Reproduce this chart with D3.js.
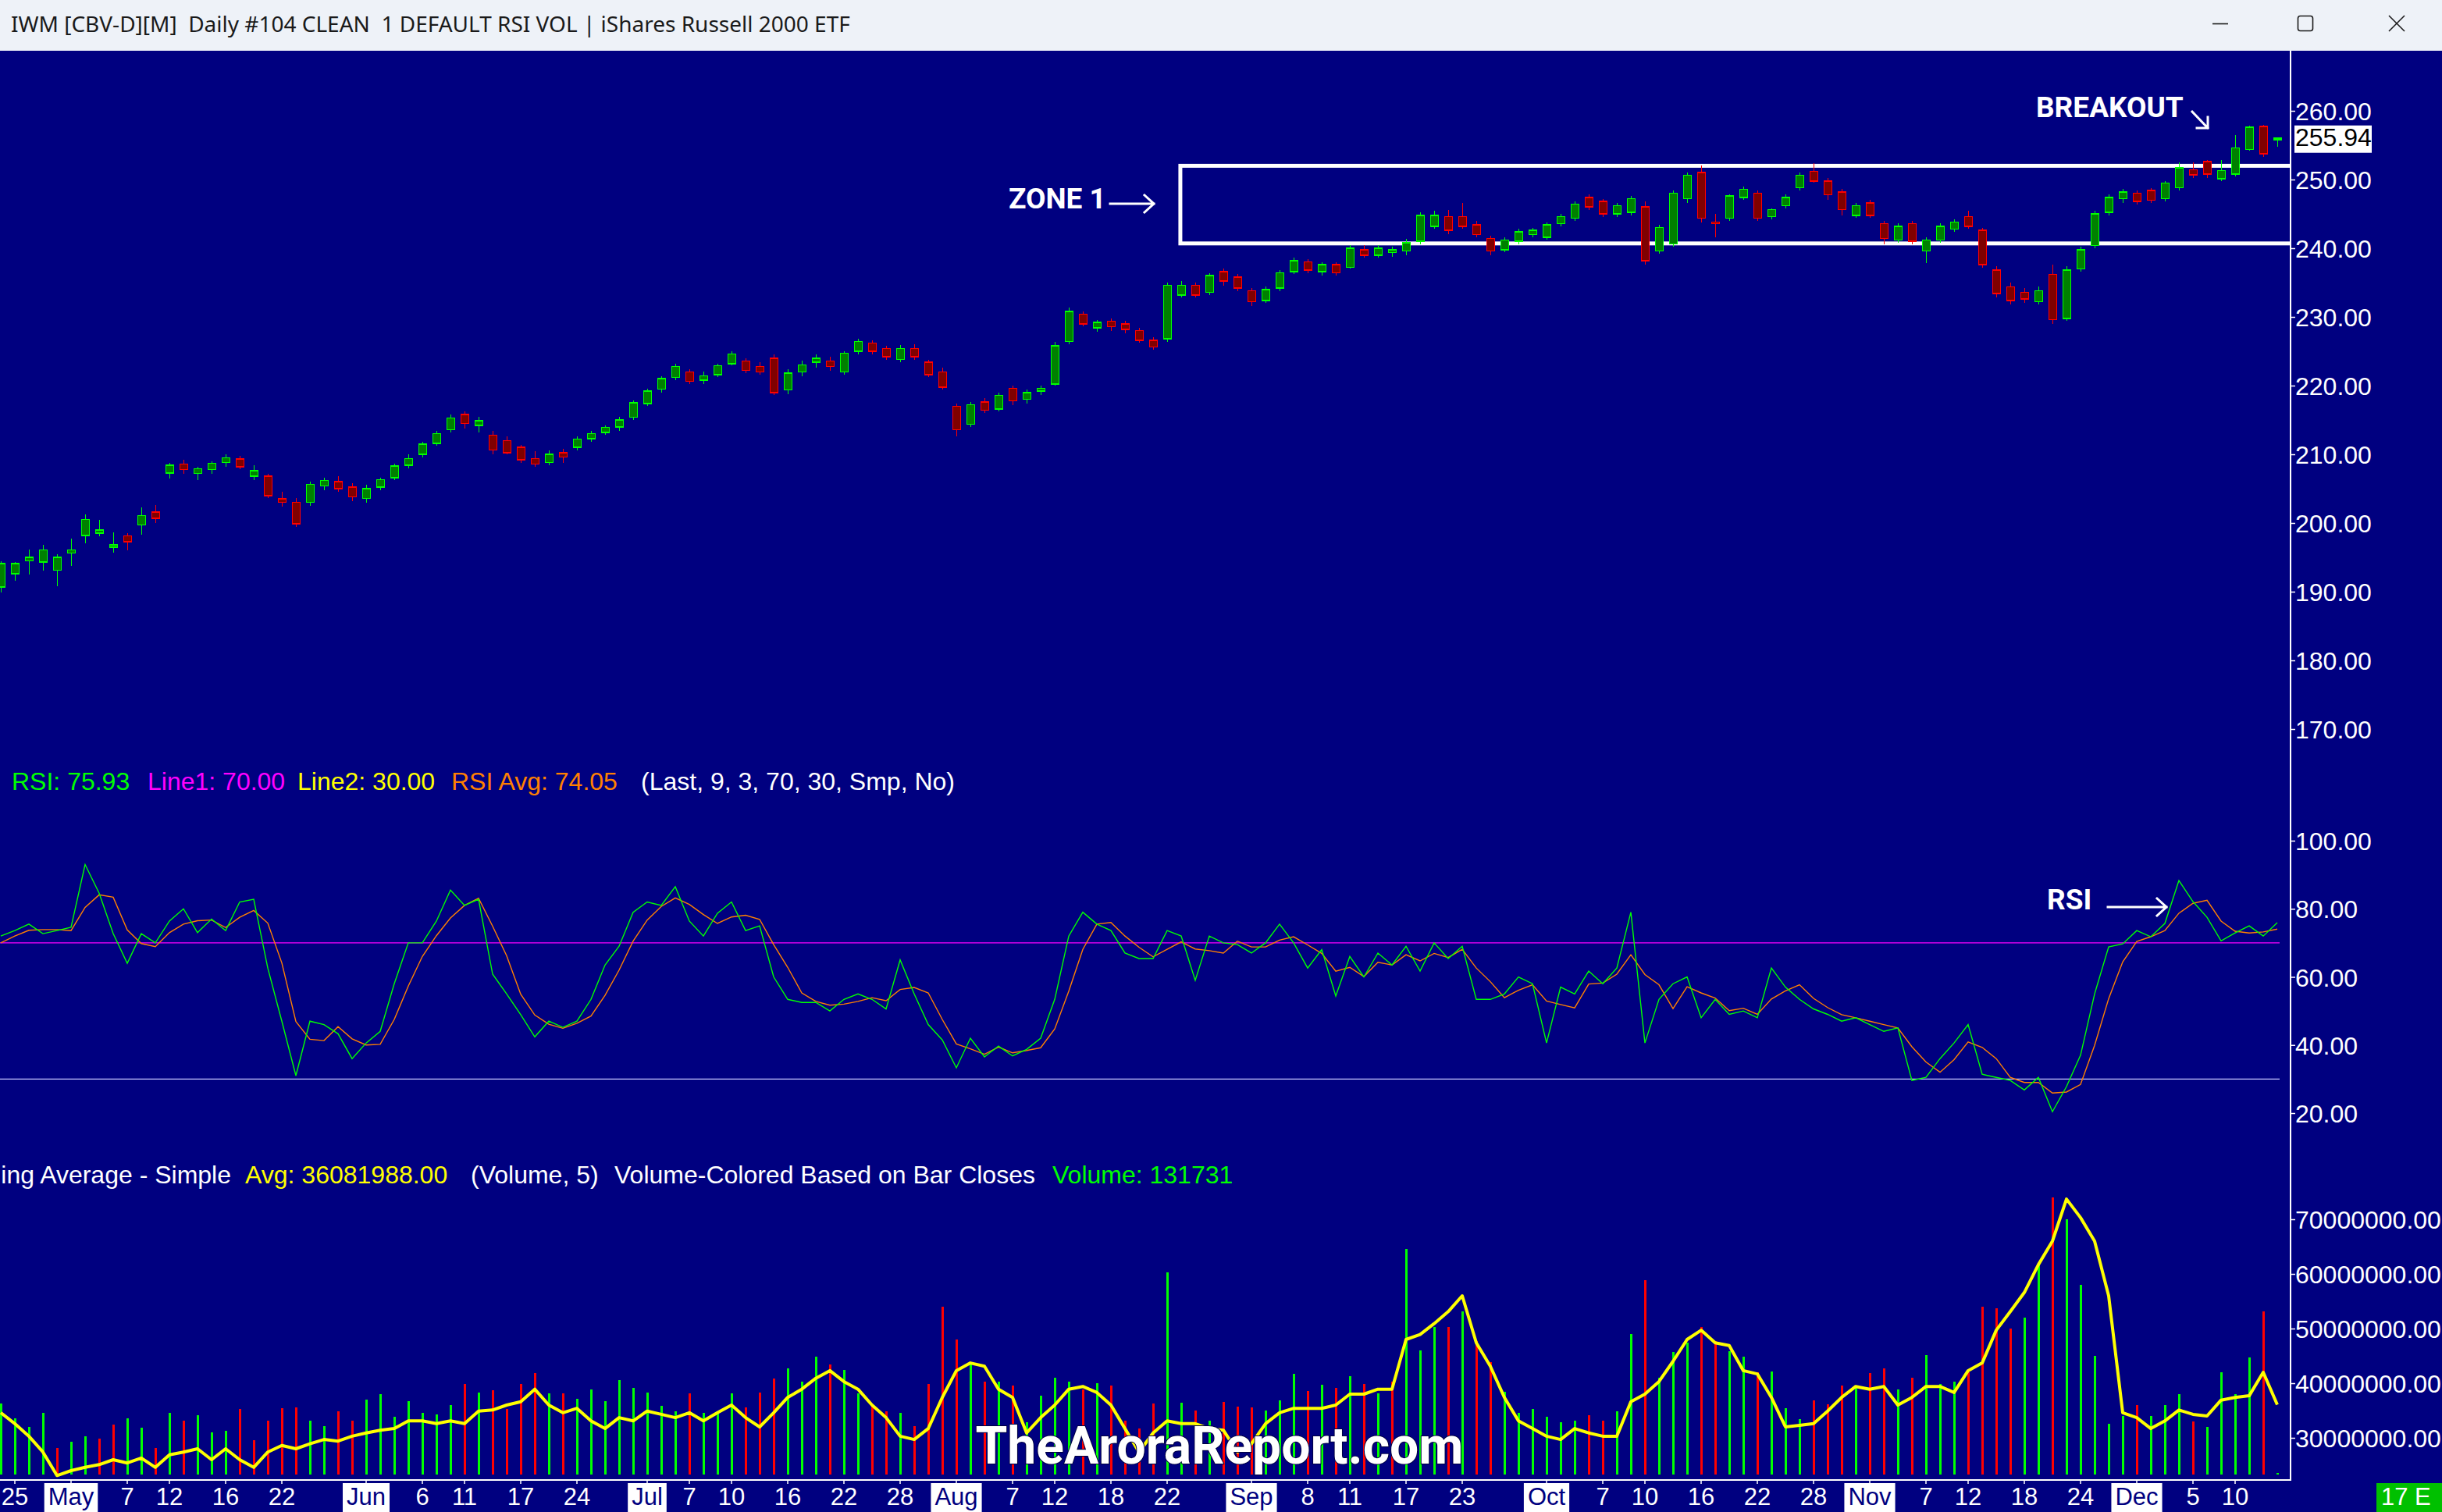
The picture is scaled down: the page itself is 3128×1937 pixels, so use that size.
<!DOCTYPE html>
<html><head><meta charset="utf-8">
<script src="https://cdn.jsdelivr.net/npm/d3@7"></script>
<style>html,body{margin:0;padding:0;background:#000080;overflow:hidden}</style>
</head><body><svg id="c" width="3128" height="1937" xmlns="http://www.w3.org/2000/svg"></svg>
<script>
// ---------------- DATA ----------------
const openP = [
190.7,192.6,194.5,194.3,193.1,195.6,198.2,198.5,196.5,198.1,
199.7,201.6,207.3,208.6,207.2,207.8,208.8,209.3,206.8,206.8,
203.5,203.0,203.0,205.4,206.0,205.2,203.6,205.2,206.6,208.4,
210.0,211.6,213.6,215.8,214.2,212.8,212.0,211.0,209.4,208.8,
210.2,211.0,212.3,213.2,214.0,215.4,217.4,219.5,221.2,222.0,
220.8,221.6,223.2,223.6,222.8,224.0,219.4,222.0,223.4,223.6,
222.0,225.0,226.2,225.4,223.8,225.4,223.4,222.0,217.0,214.4,
217.6,216.6,219.6,218.0,219.2,220.2,226.4,230.4,228.4,229.4,
229.0,228.0,226.6,226.8,233.2,234.6,233.6,236.6,235.8,233.8,
232.4,234.2,236.6,238.0,236.6,237.6,237.2,239.8,239.0,239.4,
239.6,241.0,243.2,244.6,244.6,243.4,241.4,239.8,241.0,242.0,
241.6,243.6,244.4,247.4,246.8,245.0,245.2,246.0,239.6,240.6,
247.2,251.0,243.8,244.4,247.4,248.0,244.6,246.2,248.8,251.2,
249.8,248.2,244.8,246.6,243.6,241.2,243.6,239.6,241.2,242.8,
244.6,242.6,236.8,234.4,233.6,232.2,236.2,229.8,237.0,240.4,
245.2,247.2,248.0,248.4,247.2,248.8,251.4,252.6,250.1,250.8,
254.4,257.7,255.9];
const highP = [
194.4,194.3,196.1,196.8,195.5,197.7,201.2,200.5,198.6,198.5,
202.3,202.6,208.8,209.2,208.2,209.0,210.0,209.8,208.4,207.2,
204.5,203.6,206.0,206.6,206.8,205.8,205.6,206.6,208.6,210.0,
211.8,213.4,215.8,216.3,215.4,213.4,212.6,211.4,210.4,210.6,
210.8,212.6,213.4,214.2,215.4,217.8,219.6,221.4,223.2,222.4,
222.0,223.2,225.0,224.0,223.4,224.6,222.4,223.6,224.6,224.2,
225.0,226.8,226.6,225.8,225.9,226.0,223.8,222.6,217.4,217.6,
218.2,219.0,220.0,219.4,220.0,226.4,231.4,230.8,229.6,229.8,
229.4,228.4,227.0,235.0,235.2,235.0,236.4,237.0,236.2,234.2,
234.4,236.8,238.6,238.4,238.0,238.0,240.4,240.4,240.4,240.2,
241.4,245.2,245.4,245.6,246.6,244.0,241.8,241.6,242.8,243.0,
243.8,245.0,246.8,247.8,247.2,246.6,247.6,246.8,243.4,248.4,
251.0,252.0,245.0,247.8,249.0,248.4,245.8,247.8,251.0,252.4,
250.2,248.6,246.6,247.0,244.0,243.6,244.0,241.6,243.6,244.2,
245.4,243.0,237.4,235.0,234.2,234.4,237.6,237.4,240.2,245.4,
247.8,248.6,248.4,248.8,249.8,252.5,252.5,252.8,252.8,256.5,
257.8,258.0,256.0];
const lowP = [
189.9,191.6,192.5,193.1,190.8,193.7,197.0,198.1,195.7,196.0,
198.3,200.0,206.5,207.2,206.3,207.2,208.2,207.8,206.2,203.6,
202.4,199.4,202.5,204.8,204.6,203.2,203.0,204.8,206.2,208.0,
209.6,211.2,213.2,213.8,213.2,210.0,210.0,208.8,208.2,208.4,
208.8,210.6,211.8,212.8,213.4,215.0,217.0,219.0,220.8,220.2,
220.2,221.2,223.0,221.8,221.6,218.6,218.8,221.4,222.6,222.2,
221.6,224.6,224.6,223.8,223.4,223.8,221.2,219.4,212.6,214.0,
216.0,216.2,217.2,217.4,218.6,220.0,226.0,228.6,227.8,228.0,
227.6,226.2,225.2,226.4,232.8,232.8,233.2,234.6,233.8,231.6,
232.0,233.8,236.2,236.4,236.0,236.0,237.0,238.6,238.6,238.8,
239.0,240.6,242.8,242.0,242.8,241.6,239.0,239.4,240.6,241.6,
241.2,243.2,244.0,245.6,244.6,244.6,244.8,237.6,239.2,240.2,
246.6,243.8,241.6,244.0,247.0,244.0,244.2,245.8,248.4,249.6,
247.0,244.8,244.4,244.4,240.6,240.8,240.6,237.8,240.8,242.4,
242.8,237.2,232.8,231.8,232.0,231.8,229.0,229.4,236.6,240.0,
244.8,246.6,246.4,246.6,246.8,248.4,250.2,250.2,249.8,250.5,
254.2,253.3,254.8];
const closeP = [
194.1,194.1,195.0,196.1,195.0,196.1,200.5,199.0,196.8,197.3,
201.1,200.7,208.4,207.8,207.9,208.7,209.5,208.2,207.6,204.0,
203.0,199.9,205.6,206.2,205.0,203.8,205.0,206.3,208.3,209.4,
211.5,213.0,215.3,214.5,214.9,210.6,210.2,209.2,208.6,210.0,
209.6,212.2,213.0,213.9,215.0,217.5,219.2,221.0,222.8,220.6,
221.4,222.9,224.6,222.2,222.0,219.0,221.8,223.0,224.0,222.8,
224.7,226.4,225.0,224.2,225.4,224.2,221.6,219.8,213.6,217.2,
216.4,218.6,217.8,219.0,219.6,225.8,230.8,229.0,229.2,228.6,
228.2,226.6,225.6,234.6,234.6,233.2,236.0,235.2,234.2,232.2,
234.0,236.4,238.2,236.8,237.6,236.4,240.0,239.0,240.0,239.8,
240.8,244.8,244.8,242.6,243.2,242.0,239.6,241.2,242.4,242.6,
243.4,244.6,246.4,246.0,245.0,246.2,247.2,238.2,243.0,248.0,
250.6,244.4,243.6,247.6,248.6,244.4,245.6,247.4,250.6,249.8,
247.8,245.6,246.2,244.8,241.4,243.2,241.0,241.2,243.2,243.8,
243.2,237.6,233.4,232.4,232.6,233.8,229.6,236.8,239.8,245.0,
247.4,248.2,246.8,247.0,249.5,251.7,250.7,250.8,251.3,254.6,
257.6,253.75,255.94];
// RSI(9) and its 3-bar average
const rsiValues = [
72,73.6,75.5,72.7,73.6,74.6,93,84.6,72.7,64,
72.7,70,76.4,80,73,77,73.6,82,82.8,62.6,
47,31,47,46,43.3,36,40.6,44,58,70,
70,76.4,85.5,81,82.8,60.8,55,48.9,42.4,47,
45.2,47,53.4,63.5,69,79,82,81,86.5,76.4,
72,78.7,82,73.6,75,60,53.4,52.5,52.5,50,
53.4,55,53.4,50.6,65,55,46,41.5,33.3,42,
36.5,39.7,36.8,38.7,42,53.4,72,79,75.5,73.6,
67,65.4,65.4,73.6,72,59,72,70,69.5,67,
70,75.5,70,62.6,68,54.4,66,60,67,63.5,
69,61.7,70,65.4,69,53.4,53.4,55,60,58,
40.6,57,55,61.7,58,62.6,79,40.6,53.4,58,
60,48,53.4,49,50,48,62.6,57,53.4,50.6,
49,47,48,46,44,45,29.6,30.5,36,40.6,
46,31.4,30.5,29.6,26.8,30.5,20.4,27.8,37,55,
68.8,69.7,73.6,71.8,75.7,88.3,82.1,77.5,70.6,72.9,
75,72,75.93];
const rsiAvgValues = [
70,72,73.7,73.9,73.9,73.6,80.4,84.1,83.4,73.8,
69.8,68.9,73.0,75.5,76.5,76.7,74.5,77.5,79.5,75.8,
64.1,46.9,41.7,41.3,45.4,41.8,40.0,40.2,47.5,57.3,
66.0,72.1,77.3,81.0,83.1,74.9,66.2,54.9,48.8,46.1,
44.9,46.4,48.5,54.6,62.0,70.5,76.7,80.7,83.2,81.3,
78.3,75.7,77.6,78.1,76.9,69.5,62.8,55.3,52.8,51.7,
52.0,52.8,53.9,53.0,56.3,56.9,55.3,47.5,40.3,38.9,
37.3,39.4,37.7,38.4,39.2,44.7,55.8,68.1,75.5,76.0,
72.0,68.7,65.9,68.1,70.3,68.2,67.7,67.0,70.5,68.8,
68.8,70.8,71.8,69.4,66.9,61.7,62.8,60.1,64.3,63.5,
66.5,64.7,66.9,65.7,68.1,62.6,58.6,53.9,56.1,57.7,
52.9,51.9,50.9,57.9,58.2,60.8,66.5,60.7,57.7,50.7,
57.1,55.3,53.8,50.1,50.8,49.0,53.5,55.9,57.7,53.7,
51.0,48.9,48.0,47.0,46.0,45.0,39.5,35.0,32.0,35.7,
40.9,39.3,36.0,30.5,29.0,29.0,25.9,26.2,28.4,39.9,
53.6,64.4,70.4,71.8,73.6,78.7,81.6,82.5,76.4,73.4,
72.9,73.2,74.05];
// Volume, in millions of shares, and its 5-bar simple average
const volumeM = [
36.3,33.6,32.0,34.6,28.1,29.3,30.3,29.9,32.5,33.6,
31.9,28.2,34.6,33.2,34.2,31.0,31.3,35.3,29.6,33.2,
35.5,35.6,33.2,32.2,34.9,33.2,37.0,38.0,33.9,36.7,
34.6,34.3,36.0,39.8,38.3,38.7,35.3,39.9,41.8,38.2,
38.2,37.2,38.9,36.7,40.6,39.1,38.3,35.9,34.9,38.2,
34.6,34.6,38.2,35.6,38.3,40.8,42.7,40.3,44.9,43.5,
42.5,38.2,36.0,34.9,34.6,32.2,39.9,54.0,48.0,43.9,
40.3,40.3,39.6,32.8,37.7,41.0,40.3,38.9,40.0,39.6,
33.2,31.7,36.3,60.3,36.5,35.0,33.2,36.6,35.7,35.6,
35.0,36.8,41.7,38.6,39.7,39.2,41.3,39.9,38.2,40.3,
64.6,46.0,50.3,50.3,53.2,47.7,43.9,38.4,34.6,35.3,
33.9,32.9,33.2,34.2,33.2,34.9,49.0,58.9,41.0,45.7,
47.5,50.3,47.7,45.8,44.9,42.0,42.2,35.5,33.5,36.9,
36.2,39.6,39.2,41.8,42.7,38.9,41.0,45.2,39.9,40.3,
42.0,54.0,53.7,50.0,52.0,62.0,74.0,70.0,58.0,45.0,
32.6,34.0,36.0,34.0,36.0,38.0,33.0,32.0,42.0,38.0,
44.7,53.1,0.131731];
const volumeAvgM = [
34.6,32.6,30.3,27.4,23.1,24.0,24.6,25.1,26.0,25.4,
26.3,24.6,26.9,27.4,28.0,26.0,28.0,26.0,24.6,27.4,
28.6,28.0,28.9,29.7,29.4,30.3,30.9,31.4,31.7,33.1,
33.1,32.6,33.1,32.6,34.9,35.1,36.0,36.6,38.9,36.0,
34.6,35.4,33.1,31.7,33.7,33.1,34.9,34.3,33.7,34.6,
33.1,34.6,36.0,33.7,32.0,34.6,37.4,38.9,40.9,42.3,
40.3,38.9,36.0,33.7,30.3,29.7,31.7,37.4,42.3,43.7,
43.1,38.9,37.4,30.9,33.7,36.0,38.9,39.4,38.3,36.0,
31.7,27.4,30.9,33.1,32.6,32.6,31.7,31.4,27.4,28.9,
32.6,34.6,35.4,35.4,35.4,36.0,38.0,38.0,38.9,38.9,
48.0,48.9,50.9,53.1,56.0,47.4,43.1,37.4,33.1,31.7,
30.3,29.7,31.7,30.9,30.3,30.3,36.6,38.0,40.3,44.0,
48.0,49.7,47.4,46.9,42.3,41.7,37.4,32.0,32.3,32.6,
34.9,37.4,39.4,38.9,39.4,36.0,37.4,39.4,39.4,38.3,
42.3,43.7,49.7,53.1,56.6,61.7,66.0,73.7,70.3,66.0,
56.0,34.6,33.7,31.7,33.1,35.1,34.3,34.0,36.9,37.4,
37.7,42.0,36.08];
// Date axis: bar index of each label and its text
const tickBars = [1,5,9,12,16,20,26,30,33,37,41,46,49,52,56,60,64,68,72,75,79,83,89,93,96,100,104,110,114,117,121,125,129,133,137,140,144,148,152,156,159];
const tickLabels = ["25","May","7","12","16","22","Jun","6","11","17","24","Jul","7","10","16","22","28","Aug","7","12","18","22","Sep","8","11","17","23","Oct","7","10","16","22","28","Nov","7","12","18","24","Dec","5","10"];
const priceTicks = [170,180,190,200,210,220,230,240,250,260];
const rsiTicks = [20,40,60,80,100];
const volumeTicks = [30,40,50,60,70];
const rsiLines = [70,30];
const zoneTop = 252.0, zoneBottom = 240.7, zoneStartBar = 83.94;
const lastPrice = 255.94;

// ---------------- LAYOUT ----------------
const W = 3128, H = 1937;
const NAVY = "#000080", GREEN = "#00ff00", RED = "#ff0000";
const FONT = "'Liberation Sans', Arial, sans-serif";
const svg = d3.select("#c");
const AX = 2934;          // right axis line
const n = closeP.length;
const x = d3.scaleLinear().domain([0, 162]).range([1, 2917]);
const yP = d3.scaleLinear().domain([170, 260]).range([934, 142]);
const yR = d3.scaleLinear().domain([20, 100]).range([1426, 1077]);
const yV = d3.scaleLinear().domain([30, 70]).range([1842, 1562]);
const VBOT = 1889;

svg.append("rect").attr("x",0).attr("y",0).attr("width",W).attr("height",H).attr("fill",NAVY);
// title bar
svg.append("rect").attr("x",0).attr("y",0).attr("width",W).attr("height",65).attr("fill","#eef2f8");
svg.append("text").attr("x",14).attr("y",33).attr("dominant-baseline","middle")
  .attr("font-family","'Noto Sans', 'Open Sans', sans-serif").attr("font-size",28).attr("fill","#1a1a1a")
  .style("white-space","pre")
  .text("IWM [CBV-D][M]  Daily #104 CLEAN  1 DEFAULT RSI VOL | iShares Russell 2000 ETF");
const wc = svg.append("g").attr("stroke","#1a1a1a").attr("stroke-width",1.6).attr("fill","none");
wc.append("line").attr("x1",2834).attr("x2",2854).attr("y1",30.5).attr("y2",30.5);
wc.append("rect").attr("x",2943.5).attr("y",20.5).attr("width",19).attr("height",19).attr("rx",3);
wc.append("line").attr("x1",3060).attr("y1",20).attr("x2",3080).attr("y2",40);
wc.append("line").attr("x1",3080).attr("y1",20).attr("x2",3060).attr("y2",40);

// clip for plotting area
const defs = svg.append("defs");
defs.append("clipPath").attr("id","plot").append("rect").attr("x",0).attr("y",66).attr("width",AX).attr("height",1828);

// ---------------- PRICE PANEL ----------------
const pg = svg.append("g").attr("clip-path","url(#plot)");
pg.append("rect")
  .attr("x", x(zoneStartBar)).attr("y", yP(zoneTop))
  .attr("width", AX + 40 - x(zoneStartBar)).attr("height", yP(zoneBottom) - yP(zoneTop))
  .attr("fill","none").attr("stroke","#ffffff").attr("stroke-width",5);

const idx = d3.range(n);
const bw = 10;
const candles = pg.append("g").attr("shape-rendering","crispEdges");
idx.forEach(i => {
  const up = closeP[i] >= openP[i];
  const col = up ? GREEN : RED;
  const fill = up ? "#008000" : "#800000";
  const cx = Math.round(x(i)) + 0.5;
  candles.append("line").attr("x1",cx).attr("x2",cx).attr("y1",yP(highP[i])).attr("y2",yP(lowP[i]))
    .attr("stroke",col).attr("stroke-width",1.5);
  const top = yP(Math.max(openP[i], closeP[i])), bot = yP(Math.min(openP[i], closeP[i]));
  const h = Math.max(bot - top, 2);
  candles.append("rect").attr("x",cx - bw/2).attr("y",top - (h - (bot-top))/2).attr("width",bw).attr("height",h)
    .attr("fill",fill).attr("stroke",col).attr("stroke-width",1.5);
});

svg.append("g").attr("transform",`translate(${AX},0)`)
  .call(d3.axisRight(yP).tickValues(priceTicks).tickFormat(d3.format(".2f")).tickSize(6).tickPadding(0));
svg.append("rect").attr("x",2939).attr("y",yP(lastPrice)-17).attr("width",99).attr("height",35).attr("fill","#ffffff");
svg.append("text").attr("x",2940).attr("y",yP(lastPrice)+1).attr("dominant-baseline","middle")
  .attr("font-family",FONT).attr("font-size",32).attr("fill","#000000").text(d3.format(".2f")(lastPrice));

// ---------------- RSI PANEL ----------------
const rg = svg.append("g").attr("clip-path","url(#plot)");
rg.append("line").attr("x1",0).attr("x2",2920).attr("y1",yR(rsiLines[0])).attr("y2",yR(rsiLines[0]))
  .attr("stroke","#ff00ff").attr("stroke-width",1.3);
rg.append("line").attr("x1",0).attr("x2",2920).attr("y1",yR(rsiLines[1])).attr("y2",yR(rsiLines[1]))
  .attr("stroke","#c8c8ff").attr("stroke-width",1.3);
const rline = d3.line().x((d,i)=>x(i)).y(d=>yR(d));
rg.append("path").datum(rsiAvgValues).attr("d",rline).attr("fill","none").attr("stroke","#ff8000").attr("stroke-width",1.4);
rg.append("path").datum(rsiValues).attr("d",rline).attr("fill","none").attr("stroke",GREEN).attr("stroke-width",1.4);
svg.append("g").attr("transform",`translate(${AX},0)`)
  .call(d3.axisRight(yR).tickValues(rsiTicks).tickFormat(d3.format(".2f")).tickSize(6).tickPadding(0));

// ---------------- VOLUME PANEL ----------------
const vg = svg.append("g").attr("clip-path","url(#plot)");
const vb = vg.append("g").attr("shape-rendering","crispEdges");
idx.forEach(i => {
  const up = i === 0 ? true : closeP[i] >= closeP[i-1];
  const top = Math.min(yV(volumeM[i]), VBOT - 2);
  vb.append("rect").attr("x",Math.round(x(i)) - 1).attr("y",top).attr("width",3).attr("height",VBOT - top)
    .attr("fill", up ? GREEN : RED);
});
vg.append("path").datum(volumeAvgM).attr("d", d3.line().x((d,i)=>x(i)).y(d=>yV(d)))
  .attr("fill","none").attr("stroke","#ffff00").attr("stroke-width",4).attr("stroke-linejoin","round");
svg.append("g").attr("transform",`translate(${AX},0)`)
  .call(d3.axisRight(yV).tickValues(volumeTicks).tickFormat(d => (d*1e6).toFixed(2)).tickSize(6).tickPadding(0));

svg.selectAll(".domain").remove();
svg.selectAll(".tick line").attr("stroke","#ffffff").attr("stroke-width",1.5);
svg.selectAll(".tick text").attr("fill","#ffffff").attr("font-family",FONT).attr("font-size",32).attr("dy","0.36em");

svg.append("line").attr("x1",AX).attr("x2",AX).attr("y1",65).attr("y2",1897).attr("stroke","#ffffff").attr("stroke-width",2);
svg.append("line").attr("x1",0).attr("x2",AX+1).attr("y1",1896).attr("y2",1896).attr("stroke","#ffffff").attr("stroke-width",2);

// ---------------- DATE AXIS ----------------
const dg = svg.append("g");
tickBars.forEach((b, k) => {
  const lbl = tickLabels[k];
  const isMonth = isNaN(+lbl);
  const cx = x(b);
  dg.append("line").attr("x1",cx).attr("x2",cx).attr("y1",1896).attr("y2",1901).attr("stroke","#ffffff").attr("stroke-width",1.5);
  const t = dg.append("text").attr("x",cx).attr("y",1920).attr("text-anchor","middle").attr("dominant-baseline","middle")
    .attr("font-family",FONT).attr("font-size",31).attr("fill", isMonth ? NAVY : "#ffffff").text(lbl);
  if (isMonth) {
    const w = t.node().getComputedTextLength() + 10;
    dg.insert("rect","text").attr("x",cx - w/2).attr("y",1900).attr("width",w).attr("height",37).attr("fill","#ffffff");
  }
});
svg.append("rect").attr("x",3044).attr("y",1900).attr("width",84).attr("height",37).attr("fill","#00c000");
svg.append("text").attr("x",3050).attr("y",1920).attr("dominant-baseline","middle")
  .attr("font-family",FONT).attr("font-size",31).attr("fill","#ffffff").text("17 E");

// ---------------- LEGENDS ----------------
function seg(xp, yp, txt, col, anchor) {
  svg.append("text").attr("x",xp).attr("y",yp).attr("dominant-baseline","middle")
    .attr("text-anchor", anchor || "start")
    .attr("font-family",FONT).attr("font-size",32).attr("fill",col).text(txt);
}
const ry = 1004;
seg(15, ry, "RSI: " + rsiValues[n-1].toFixed(2), GREEN);
seg(189, ry, "Line1: " + rsiLines[0].toFixed(2), "#ff00ff");
seg(381, ry, "Line2: " + rsiLines[1].toFixed(2), "#ffff00");
seg(578, ry, "RSI Avg: " + rsiAvgValues[n-1].toFixed(2), "#ff8000");
seg(821, ry, "(Last, 9, 3, 70, 30, Smp, No)", "#ffffff");
const vy = 1508;
seg(296, vy, "ing Average - Simple", "#ffffff", "end");
seg(314, vy, "Avg: 36081988.00", "#ffff00");
seg(603, vy, "(Volume, 5)", "#ffffff");
seg(787, vy, "Volume-Colored Based on Bar Closes", "#ffffff");
seg(1348, vy, "Volume: " + Math.round(volumeM[n-1]*1e6), GREEN);

// ---------------- ANNOTATIONS ----------------
const AF = "Roboto, 'Liberation Sans', sans-serif";
function note(xp, yp, txt) {
  svg.append("text").attr("x",xp).attr("y",yp).attr("dominant-baseline","middle")
    .attr("font-family",AF).attr("font-weight",700).attr("font-size",37).attr("fill","#ffffff").text(txt);
}
const arr = svg.append("g").attr("stroke","#ffffff").attr("stroke-width",3).attr("fill","none").attr("stroke-linecap","square");
note(1292, 257, "ZONE 1");
arr.append("path").attr("d","M1422,261 H1478 M1466,250 L1478,261 L1466,272");
note(2608, 140, "BREAKOUT");
arr.append("path").attr("d","M2808,143 L2828,164 M2828,150 L2828,164 L2814,164");
note(2622, 1155, "RSI");
arr.append("path").attr("d","M2700,1162 H2775 M2763,1151 L2775,1162 L2763,1173");

// watermark
svg.append("text").attr("x",1562).attr("y",1858).attr("text-anchor","middle").attr("dominant-baseline","middle")
  .attr("font-family",AF).attr("font-weight",700).attr("font-size",66).attr("fill","#ffffff")
  .attr("stroke","#000040").attr("stroke-width",2).attr("paint-order","stroke")
  .text("TheAroraReport.com");
</script>
</body></html>
